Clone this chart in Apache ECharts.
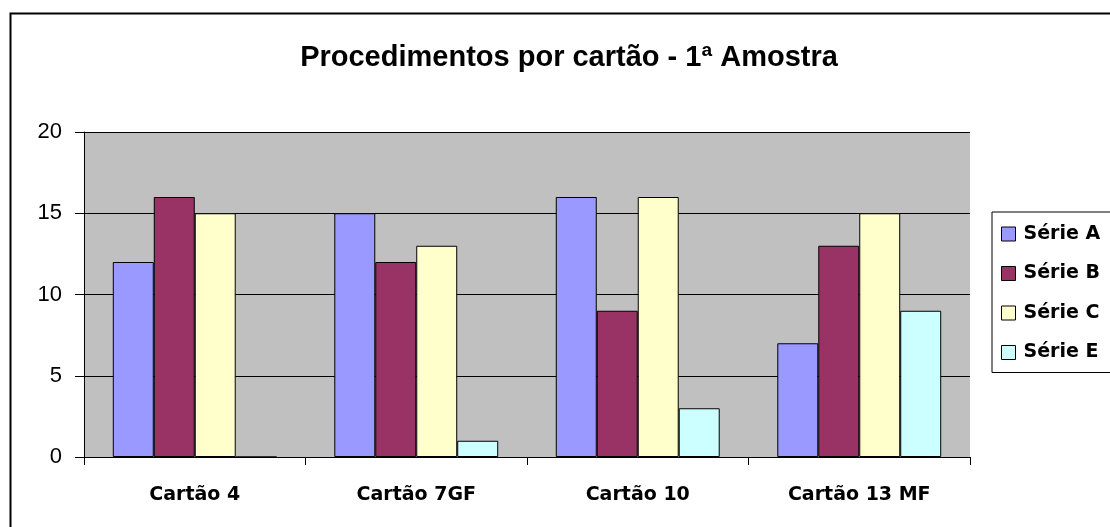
<!DOCTYPE html>
<html>
<head>
<meta charset="utf-8">
<script src="https://cdn.jsdelivr.net/npm/echarts@6/dist/echarts.min.js"></script>
<style>
  html, body { margin: 0; padding: 0; background: #fff; }
  #chart { width: 1110px; height: 527px; }
</style>
</head>
<body>
<div id="chart"></div>
<script>
// data
const categories = ["Cartão 4", "Cartão 7GF", "Cartão 10", "Cartão 13 MF"];
const serieA = [12, 15, 16, 7];
const serieB = [16, 12, 9, 13];
const serieC = [15, 13, 16, 15];
const serieE = [0, 1, 3, 9];
const seriesNames = ["Série A", "Série B", "Série C", "Série E"];
const seriesColors = ["#9999FF", "#993366", "#FFFFCC", "#CCFFFF"];
const yTicks = [0, 5, 10, 15, 20];

const chart = echarts.init(document.getElementById("chart"));

const values = [serieA, serieB, serieC, serieE];
const series = values.map((data, i) => ({
  name: seriesNames[i],
  type: "bar",
  data: data,
  barGap: "0%",
  barCategoryGap: "26%",
  itemStyle: { color: seriesColors[i], borderColor: "#000", borderWidth: 1 },
  emphasis: { disabled: true }
}));

const option = {
  animation: false,
  textStyle: { fontFamily: "Liberation Sans, Arial, sans-serif" },
  title: {
    text: "Procedimentos por cartão - 1ª Amostra",
    left: 564,
    top: 38,
    textAlign: "center",
    textStyle: { fontSize: 29, fontWeight: "bold", color: "#000", fontFamily: "Liberation Sans" }
  },
  graphic: [{
    type: "rect",
    shape: { x: 10.5, y: 13.5, width: 1120, height: 530 },
    style: { fill: "none", stroke: "#000", lineWidth: 2 },
    silent: true
  }],
  legend: {
    orient: "vertical",
    left: 992,
    top: 212,
    width: 130,
    itemWidth: 14,
    itemHeight: 14,
    itemGap: 20.5,
    padding: [12.5, 40, 10.5, 9],
    borderColor: "#000",
    borderWidth: 1,
    backgroundColor: "#fff",
    icon: "rect",
    itemStyle: { borderColor: "#000", borderWidth: 1 },
    textStyle: {
      fontSize: 19, fontWeight: "bold", color: "#000",
      fontFamily: "DejaVu Sans", lineHeight: 19, padding: [0, 0, 0, 3]
    },
    data: seriesNames
  },
  grid: {
    left: 84,
    right: 140,
    top: 132,
    bottom: 70,
    show: true,
    backgroundColor: "#C0C0C0",
    borderWidth: 0
  },
  xAxis: {
    type: "category",
    data: categories,
    axisLine: { lineStyle: { color: "#000", width: 1 } },
    axisTick: { show: true, length: 8, inside: false, lineStyle: { color: "#000" } },
    axisLabel: {
      fontSize: 19, fontWeight: "bold", color: "#000",
      fontFamily: "DejaVu Sans", margin: 29
    }
  },
  yAxis: {
    type: "value",
    min: yTicks[0],
    max: yTicks[yTicks.length - 1],
    interval: 5,
    axisLine: { show: true, lineStyle: { color: "#000", width: 1 } },
    axisTick: { show: true, length: 9, lineStyle: { color: "#000" } },
    axisLabel: { fontSize: 22, color: "#000", margin: 22 },
    splitLine: { show: true, lineStyle: { color: "#000", width: 1 } }
  },
  series: series
};

option && chart.setOption(option);
</script>
</body>
</html>
